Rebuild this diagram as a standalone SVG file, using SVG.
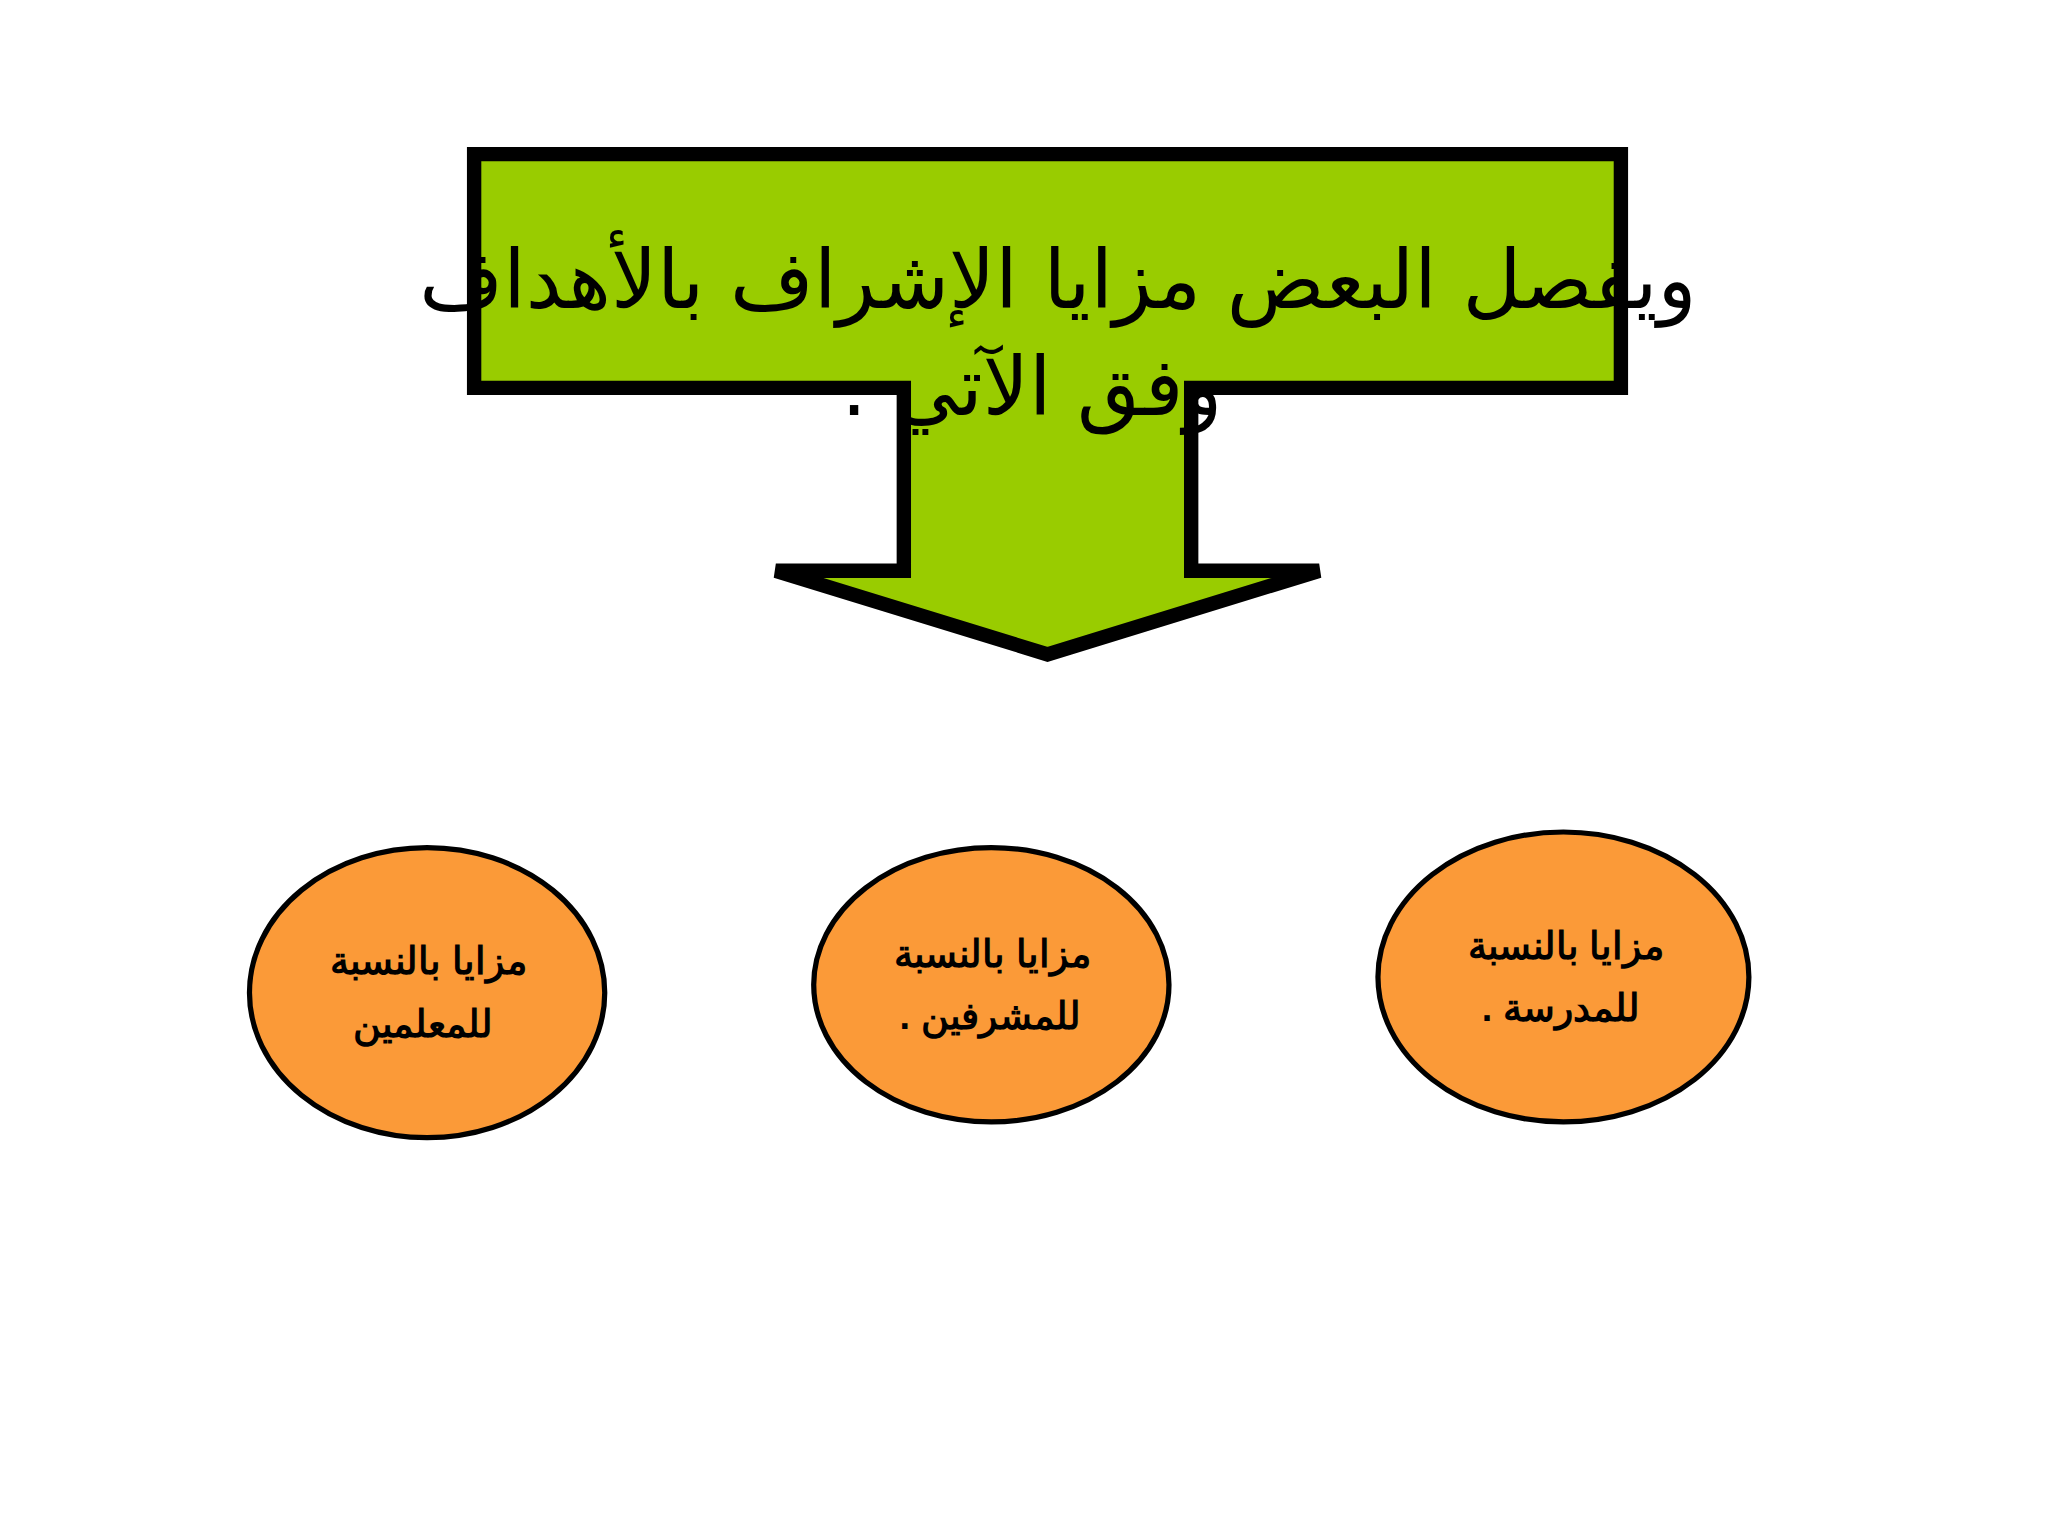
<svg xmlns="http://www.w3.org/2000/svg" width="2048" height="1536" viewBox="0 0 2048 1536">
<style>
.el{fill:#FB9A38;stroke:#000;stroke-width:4}
.lb{font-family:"Liberation Sans",Arial,sans-serif;font-weight:bold;font-size:29px;fill:#000;text-anchor:middle}
.tt{font-family:"DejaVu Sans",sans-serif;font-size:62px;fill:#000;text-anchor:middle}
</style>
<rect width="2048" height="1536" fill="#fff"/>
<g transform="scale(1.30612)">
<g id="arrow">
<polygon points="363,118 1241,118 1241,297 912,297 912,437 1010,437 802,501 594,437 692,437 692,297 363,297" fill="#99CC00" stroke="#000" stroke-width="11" stroke-linejoin="miter"/>
</g>
<g id="title">
<text class="tt" x="810" y="236" direction="rtl">ويفصل البعض مزايا الإشراف بالأهداف</text>
<text class="tt" x="790" y="318" direction="rtl">وفق الآتي .</text>
</g>
<g id="n1"><ellipse class="el" cx="327" cy="760" rx="136" ry="111"/>
<text class="lb" x="328" y="746" direction="rtl">مزايا بالنسبة</text>
<text class="lb" x="324" y="794" direction="rtl">للمعلمين</text></g>
<g id="n2"><ellipse class="el" cx="759" cy="754" rx="136" ry="105"/>
<text class="lb" x="760" y="740" direction="rtl">مزايا بالنسبة</text>
<text class="lb" x="758" y="788" direction="rtl">للمشرفين .</text></g>
<g id="n3"><ellipse class="el" cx="1197" cy="748" rx="142" ry="111"/>
<text class="lb" x="1199" y="734" direction="rtl">مزايا بالنسبة</text>
<text class="lb" x="1195" y="782" direction="rtl">للمدرسة .</text></g>
<g id="connectors"></g>
</g>
</svg>
